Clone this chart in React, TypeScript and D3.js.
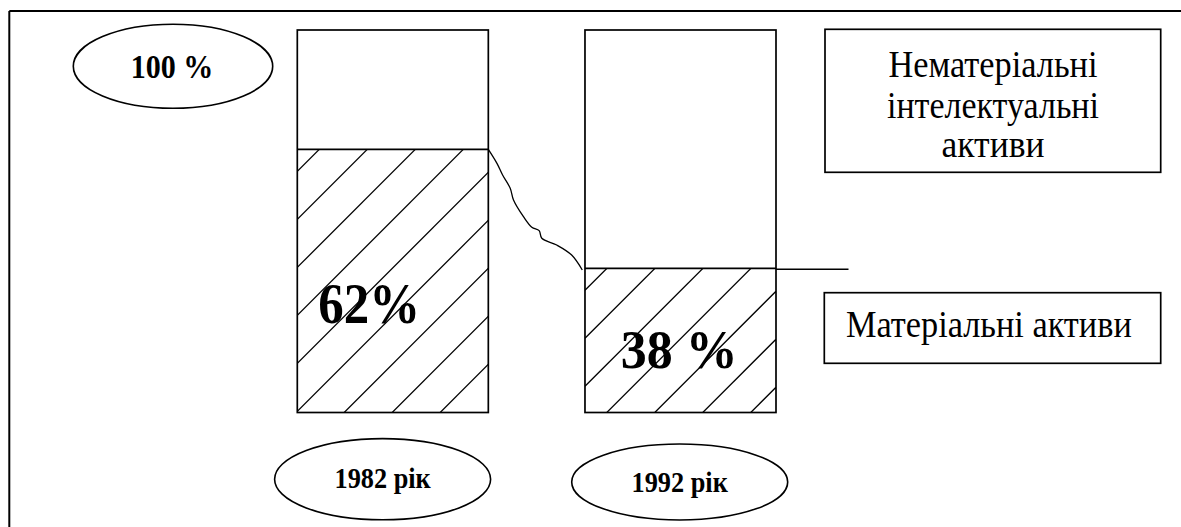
import { useEffect, useRef } from "react";
import { select, scaleBand, scaleLinear, range, line, curveCatmullRom } from "d3";

// data
const years = ["1982 рік", "1992 рік"];
const tangibleShare = [68.8, 37.7]; // hatched part as drawn (share of the full bar)
const shareLabels = ["62%", "38 %"];
const totalLabel = "100 %";
const intangibleLegend = ["Нематеріальні", "інтелектуальні", "активи"];
const tangibleLegend = "Матеріальні активи";
// hand-drawn connector, as fractions of the way between the two split points
const connectorShape = [
  [0, 0], [0.092, 0.116], [0.152, 0.213], [0.233, 0.323], [0.268, 0.42],
  [0.374, 0.558], [0.463, 0.646], [0.541, 0.674], [0.569, 0.737],
  [0.728, 0.793], [0.887, 0.876], [1, 1],
];

const WIDTH = 1181;
const HEIGHT = 527;
const FONT = "'Liberation Serif', 'Times New Roman', serif";

export default function App() {
  const ref = useRef<SVGSVGElement>(null);

  useEffect(() => {
    const svg = select(ref.current);
    svg.selectAll("*").remove();

    const x = scaleBand().domain(years).range([297.3, 776]).paddingInner(0.336).paddingOuter(0);
    const y = scaleLinear().domain([0, 100]).range([412.5, 30]);
    const bw = x.bandwidth();

    // frame (only top and left edges fall inside the picture)
    svg.append("line").attr("x1", 9.3).attr("x2", WIDTH).attr("y1", 11).attr("y2", 11)
      .attr("stroke", "#000").attr("stroke-width", 2);
    svg.append("line").attr("x1", 9.3).attr("x2", 9.3).attr("y1", 11).attr("y2", HEIGHT)
      .attr("stroke", "#000").attr("stroke-width", 2);

    // 100 % ellipse
    svg.append("ellipse").attr("cx", 173).attr("cy", 66.3).attr("rx", 99.7).attr("ry", 42)
      .attr("fill", "none").attr("stroke", "#000").attr("stroke-width", 1.6);
    svg.append("text").attr("x", 172).attr("y", 77.7).attr("text-anchor", "middle")
      .attr("font-family", FONT).attr("font-weight", "bold").attr("font-size", 34)
      .attr("textLength", 82.6).attr("lengthAdjust", "spacingAndGlyphs")
      .text(totalLabel);

    const defs = svg.append("defs");
    const labelDx = [-23.6, -1.3];
    const labelBaseline = [322.7, 368.3];
    const labelSize = [56, 54];
    const labelLength = [101.7, 116.7];
    const ellipseDx = [-10.2, -0.8];
    const ellipseCy = [479.2, 482];
    const ellipseRy = [40.6, 38];
    const yearBaseline = [487.8, 492.3];

    years.forEach((yr, i) => {
      const x0 = x(yr)!;
      const top = y(100);
      const split = y(tangibleShare[i]);
      const bottom = y(0);

      // hatched (tangible) part
      defs.append("clipPath").attr("id", `clip-${i}`)
        .append("rect").attr("x", x0).attr("y", split).attr("width", bw).attr("height", bottom - split);
      const hatch = svg.append("g").attr("clip-path", `url(#clip-${i})`);
      const h = bottom - split;
      hatch.selectAll("line")
        .data(range(22, bw + h + 48, 48))
        .join("line")
        .attr("x1", (c) => x0 + c).attr("y1", split)
        .attr("x2", x0).attr("y2", (c) => split + c)
        .attr("stroke", "#000").attr("stroke-width", 1.3);

      // whole bar outline + split line
      svg.append("rect").attr("x", x0).attr("y", top).attr("width", bw).attr("height", bottom - top)
        .attr("fill", "none").attr("stroke", "#000").attr("stroke-width", 1.7);
      svg.append("line").attr("x1", x0).attr("x2", x0 + bw).attr("y1", split).attr("y2", split)
        .attr("stroke", "#000").attr("stroke-width", 1.7);

      // share label
      svg.append("text").attr("x", x0 + bw / 2 + labelDx[i]).attr("y", labelBaseline[i])
        .attr("text-anchor", "middle").attr("font-family", FONT).attr("font-weight", "bold")
        .attr("font-size", labelSize[i]).attr("textLength", labelLength[i])
        .attr("lengthAdjust", "spacingAndGlyphs").text(shareLabels[i]);

      // year ellipse
      const cx = x0 + bw / 2 + ellipseDx[i];
      svg.append("ellipse").attr("cx", cx).attr("cy", ellipseCy[i]).attr("rx", 108).attr("ry", ellipseRy[i])
        .attr("fill", "none").attr("stroke", "#000").attr("stroke-width", 1.6);
      svg.append("text").attr("x", cx).attr("y", yearBaseline[i]).attr("text-anchor", "middle")
        .attr("font-family", FONT).attr("font-weight", "bold").attr("font-size", 30)
        .attr("textLength", 96.2).attr("lengthAdjust", "spacingAndGlyphs").text(yr);
    });

    // connector between the split points
    const start = [x(years[0])! + bw, y(tangibleShare[0])];
    const end = [x(years[1])! - 2.7, y(tangibleShare[1]) + 1.7];
    const connector = line<number[]>()
      .x((d) => start[0] + d[0] * (end[0] - start[0]))
      .y((d) => start[1] + d[1] * (end[1] - start[1]))
      .curve(curveCatmullRom);
    svg.append("path").attr("d", connector(connectorShape))
      .attr("fill", "none").attr("stroke", "#000").attr("stroke-width", 1.3);

    // leader line to the right of the second bar
    const lx = x(years[1])! + bw;
    const ly = y(tangibleShare[1]) + 1;
    svg.append("line").attr("x1", lx).attr("x2", lx + 72.5).attr("y1", ly).attr("y2", ly)
      .attr("stroke", "#000").attr("stroke-width", 1.4);

    // legend boxes
    svg.append("rect").attr("x", 825).attr("y", 29.3).attr("width", 335.7).attr("height", 143)
      .attr("fill", "none").attr("stroke", "#000").attr("stroke-width", 1.7);
    const l1Base = [76.7, 118.3, 157];
    const l1Len = [209, 212, 103];
    intangibleLegend.forEach((t, i) => {
      svg.append("text").attr("x", 993).attr("y", l1Base[i]).attr("text-anchor", "middle")
        .attr("font-family", FONT).attr("font-size", 37)
        .attr("textLength", l1Len[i]).attr("lengthAdjust", "spacingAndGlyphs").text(t);
    });

    svg.append("rect").attr("x", 824.3).attr("y", 292.7).attr("width", 336.4).attr("height", 70.6)
      .attr("fill", "none").attr("stroke", "#000").attr("stroke-width", 1.7);
    svg.append("text").attr("x", 988.9).attr("y", 337.3).attr("text-anchor", "middle")
      .attr("font-family", FONT).attr("font-size", 37)
      .attr("textLength", 285.7).attr("lengthAdjust", "spacingAndGlyphs").text(tangibleLegend);
  }, []);

  return (
    <div style={{ position: "absolute", left: 0, top: 0, background: "#fff" }}>
      <svg ref={ref} width={WIDTH} height={HEIGHT} style={{ display: "block" }} />
    </div>
  );
}
